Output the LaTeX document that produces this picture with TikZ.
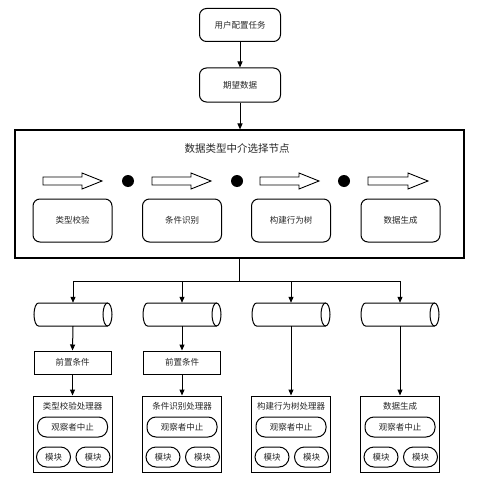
\documentclass[tikz,border=0pt]{standalone}
\usepackage{fontspec}
\newfontfamily\cjk{Noto Sans CJK SC}
\usetikzlibrary{arrows.meta}
\begin{document}
\begin{tikzpicture}[x=1pt,y=-1pt,
  txt/.style={font=\cjk\fontsize{8.5}{10}\selectfont, text=black!85},
  rbox/.style={draw, line width=1pt, rounded corners=7pt, inner sep=0pt, txt},
  sbox/.style={draw, line width=1pt, inner sep=0pt, txt},
  pill/.style={draw, line width=1pt, rounded corners=9pt, inner sep=0pt, txt},
  cylslot/.style={inner sep=0pt, minimum width=78pt, minimum height=23pt},
  cylline/.style={draw, line width=1pt},
  arr/.style={line width=1pt, -{Triangle[length=6pt,width=5pt]}},
  blockarrow/.style={draw, line width=0.9pt, fill=white},
  dotc/.style={fill=black}
]
\useasboundingbox (0,0) rectangle (480,487);

% top flow
\node[rbox, minimum width=81pt, minimum height=33pt] (task) at (240,25) {用户配置任务};
\node[rbox, minimum width=81pt, minimum height=34pt] (exp) at (240,85) {期望数据};
\node[sbox, line width=1.1pt, minimum width=449pt, minimum height=128pt] (big) at (239.5,194) {};
\node[txt, font=\cjk\fontsize{10.5}{12}\selectfont] (title) at (237,148) {数据类型中介选择节点};
\draw[arr] (task) -- (exp);
\draw[arr] (exp) -- (big.north -| exp);

% block arrows and dots
\foreach \a/\b in {43/102,152/211,260/319,368/428}{
  \draw[blockarrow] (\a,177) -- (\b-20,177) -- (\b-20,173) -- (\b,181) -- (\b-20,189) -- (\b-20,185) -- (\a,185) -- cycle;
}
\foreach \x in {128,237,344}{
  \fill[dotc] (\x,181) circle (6pt);
}

% step boxes
\node[rbox, minimum width=79pt, minimum height=43pt] (s1) at (72.5,220.5) {类型校验};
\node[rbox, minimum width=79pt, minimum height=43pt] (s2) at (182,220.5) {条件识别};
\node[rbox, minimum width=79pt, minimum height=43pt] (s3) at (291,220.5) {构建行为树};
\node[rbox, minimum width=79pt, minimum height=43pt] (s4) at (400.5,220.5) {数据生成};

% cylinders (horizontal)
\foreach \i/\cx in {1/73,2/182,3/291,4/400}{
  \node[cylslot] (c\i) at (\cx,314.5) {};
  \draw[cylline] (\cx+34.5,326) -- (\cx-34.5,326)
      arc[start angle=90, end angle=270, x radius=4.5, y radius=11.5]
      -- (\cx+34.5,303);
  \draw[cylline] (\cx+34.5,314.5) ellipse[x radius=4.5, y radius=11.5];
}

% branching
\coordinate (hub) at (239.5,281);
\draw[line width=1.1pt] (big.south) -- (hub);
\draw[arr] (hub) -| (c1.north);
\draw[arr] (hub) -| (c2.north);
\draw[arr] (hub) -| (c3.north);
\draw[arr] (hub) -| (c4.north);

% preconditions
\node[sbox, minimum width=77pt, minimum height=23pt] (p1) at (72.5,362.5) {前置条件};
\node[sbox, minimum width=77pt, minimum height=23pt] (p2) at (182,362.5) {前置条件};

% processors
\foreach \i/\x/\t in {1/72.5/类型校验处理器,2/182/条件识别处理器,3/291/构建行为树处理器,4/400/数据生成}{
  \node[sbox, minimum width=79pt, minimum height=76pt] (h\i) at (\x,434) {};
  \node[txt] (ht\i) at (\x,406) {\t};
  \node[pill, minimum width=70pt, minimum height=20pt] (o\i) at (\x,427) {观察者中止};
  \node[pill, rounded corners=10pt, minimum width=34pt, minimum height=20pt] (ma\i) at (\x-19,457) {模块};
  \node[pill, rounded corners=10pt, minimum width=34pt, minimum height=20pt] (mb\i) at (\x+20.5,457) {模块};
}

% vertical arrows
\draw[arr] (c1.south) -- (p1.north);
\draw[arr] (c2.south) -- (p2.north);
\draw[arr] (p1.south) -- (h1.north);
\draw[arr] (p2.south) -- (h2.north);
\draw[arr] (c3.south) -- (h3.north);
\draw[arr] (c4.south) -- (h4.north);
\end{tikzpicture}
\end{document}
